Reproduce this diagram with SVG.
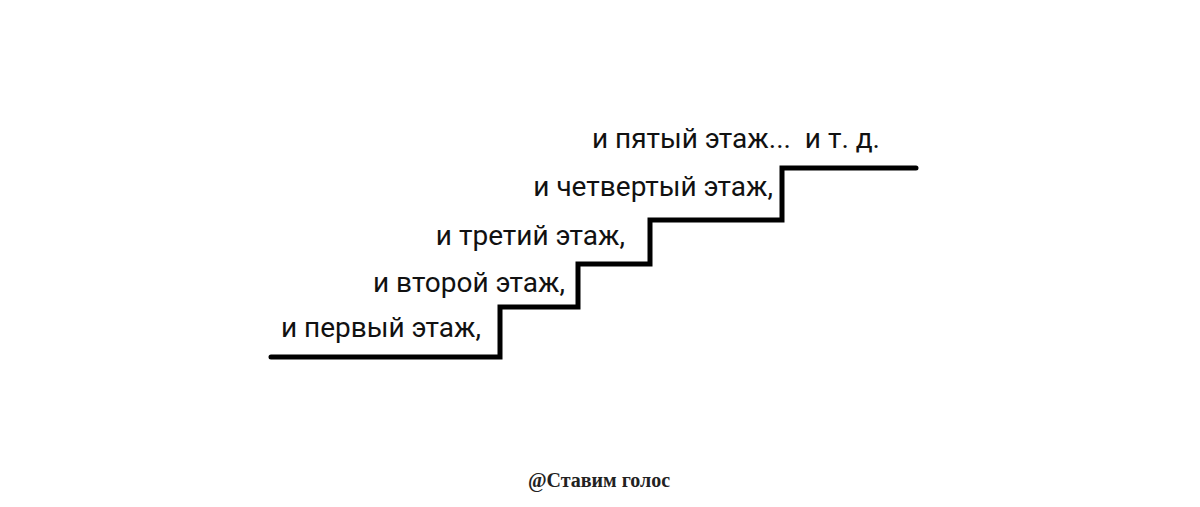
<svg xmlns="http://www.w3.org/2000/svg" width="1200" height="507" viewBox="0 0 1200 507">
<style>
.t{font-family:Roboto,"Noto Sans",sans-serif;font-size:28px;fill:#111;text-anchor:end}
.w{font-family:"Liberation Serif","DejaVu Serif",serif;font-size:20px;font-weight:bold;fill:#222;text-anchor:middle}
</style>
<rect width="1200" height="507" fill="#fff"/>
<g id="connectors">
<path d="M271 357 H500 V307 H578 V264 H650 V220 H782 V168 H916" fill="none" stroke="#000" stroke-width="5" stroke-linecap="round" stroke-linejoin="miter"/>
</g>
<g id="floor1"><text class="t" x="481" y="337">и первый этаж,</text></g>
<g id="floor2"><text class="t" x="565" y="292">и второй этаж,</text></g>
<g id="floor3"><text class="t" x="625" y="245">и третий этаж,</text></g>
<g id="floor4"><text class="t" x="773" y="196">и четвертый этаж,</text></g>
<g id="floor5"><text class="t" x="880" y="148" xml:space="preserve">и пятый этаж...  и т. д.</text></g>
<g id="watermark"><text class="w" x="599" y="487">@Ставим голос</text></g>
</svg>
